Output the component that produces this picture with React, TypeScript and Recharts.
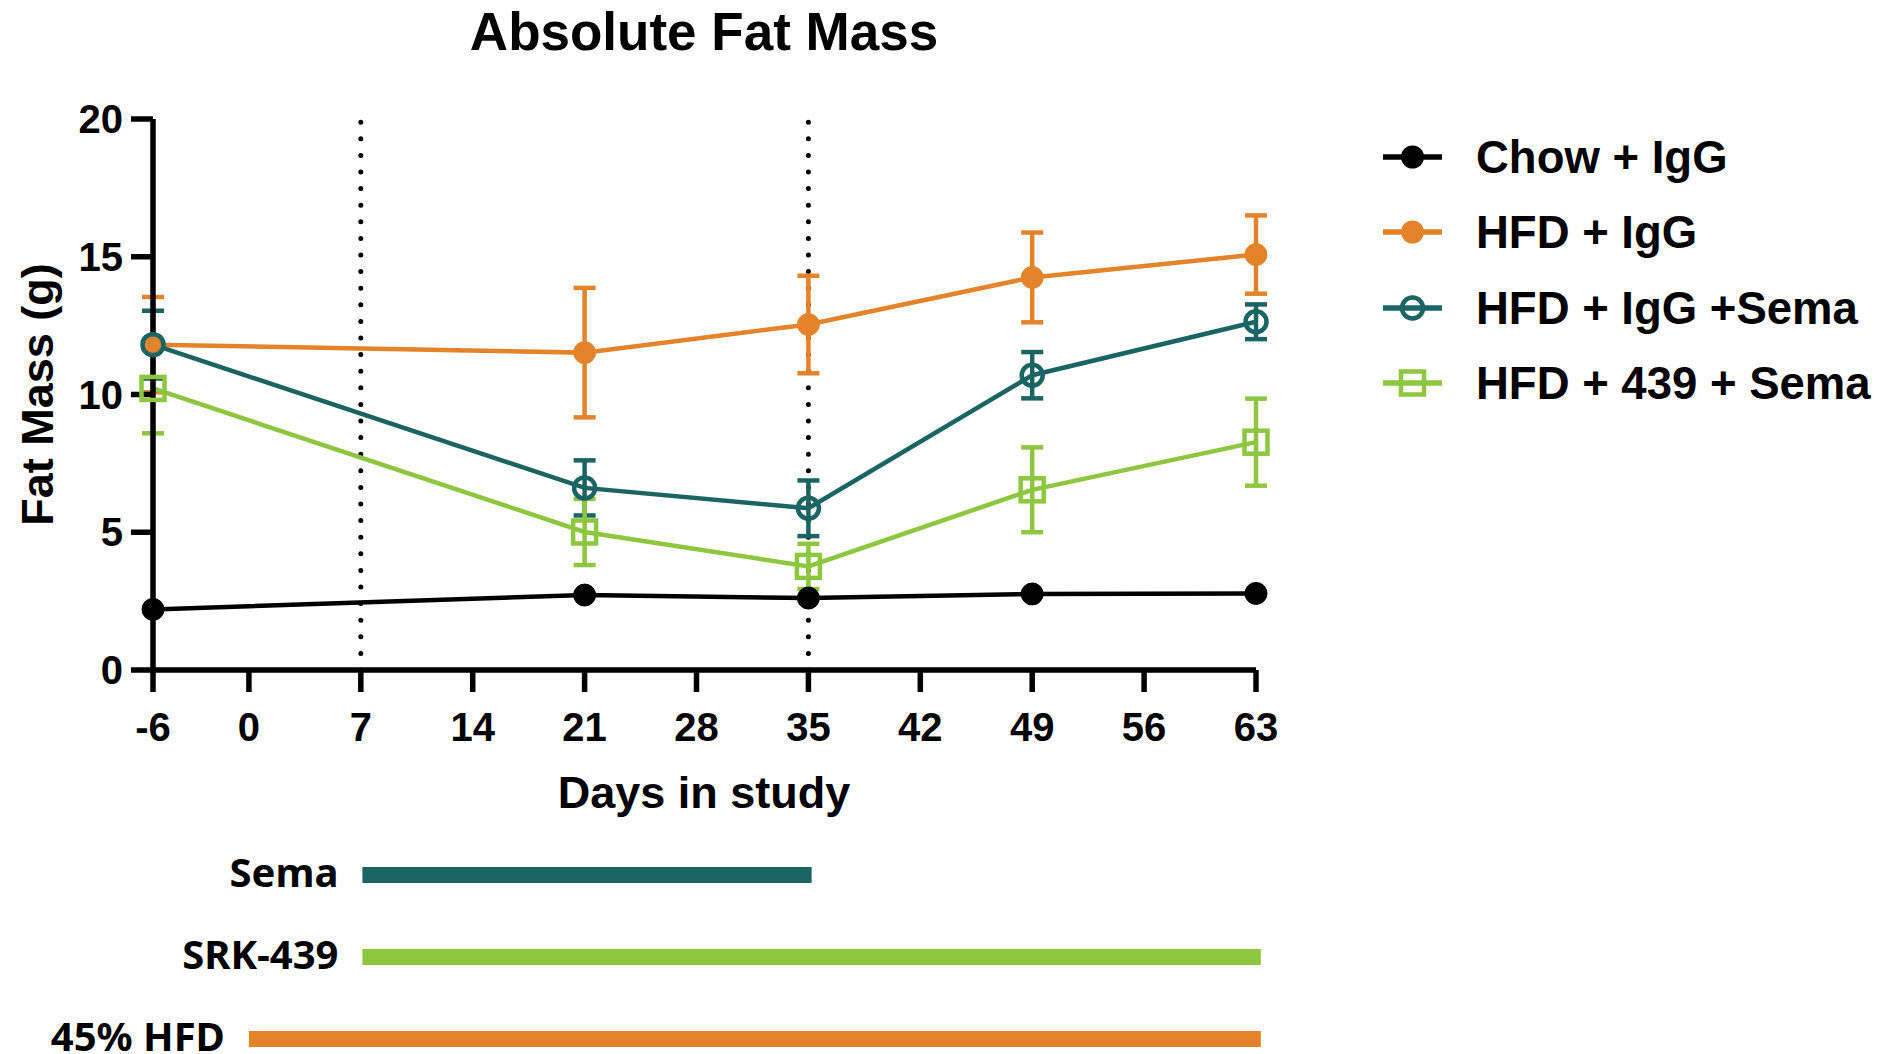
import React from 'react';
import { LineChart, Line, XAxis, YAxis, ErrorBar, ReferenceLine, LabelList } from 'recharts';

// ---------- data ----------
const days = [-6, 21, 35, 49, 63];
const chowIgG = [2.2, 2.72, 2.61, 2.76, 2.78];
const hfdIgG = [11.81, 11.52, 12.54, 14.25, 15.08];
const hfdIgGErr = [1.73, 2.35, 1.77, 1.63, 1.42];
const hfdIgGSema = [11.81, 6.61, 5.87, 10.7, 12.64];
const hfdIgGSemaErr = [1.23, 1.0, 1.01, 0.84, 0.63];
const hfd439Sema = [10.22, 5.01, 3.76, 6.54, 8.27];
const hfd439SemaErr = [1.63, 1.2, 0.82, 1.54, 1.58];

const xTicks = [-6, 0, 7, 14, 21, 28, 35, 42, 49, 56, 63];
const yTicks = [0, 5, 10, 15, 20];
const phaseDays = [7, 35];

const treatmentNames = ['Sema', 'SRK-439', '45% HFD'];
const treatmentStart = [7.1, 7.1, 0];
const treatmentEnd = [35.2, 63.3, 63.3];

// ---------- styles ----------
const BLACK = '#000000';
const ORANGE = '#E4832A';
const TEAL = '#1B6464';
const GREEN = '#8DC63F';
const ARIAL = '"Liberation Sans", Arial, Helvetica, sans-serif';
const CAL = '"Noto Sans", "Open Sans", sans-serif';

const rows = days.map((d, i) => ({
  day: d,
  chow: chowIgG[i],
  hfd: hfdIgG[i],
  hfdErr: hfdIgGErr[i],
  sema: hfdIgGSema[i],
  semaErr: hfdIgGSemaErr[i],
  s439: hfd439Sema[i],
  s439Err: hfd439SemaErr[i],
}));

const treatmentColors = [TEAL, GREEN, ORANGE];
const treatments = treatmentNames.map((name, i) => ({
  name,
  color: treatmentColors[i],
  data: [
    { x: treatmentStart[i], row: i + 1 },
    { x: treatmentEnd[i], row: i + 1 },
  ],
}));

type Marker = 'filled' | 'ring' | 'square';
const legendItems: { label: string; color: string; marker: Marker }[] = [
  { label: 'Chow + IgG', color: BLACK, marker: 'filled' },
  { label: 'HFD + IgG', color: ORANGE, marker: 'filled' },
  { label: 'HFD + IgG +Sema', color: TEAL, marker: 'ring' },
  { label: 'HFD + 439 + Sema', color: GREEN, marker: 'square' },
];

const SquareDot = (props: any) => {
  const { cx, cy, index } = props;
  if (cx == null || cy == null) return <g key={`sq-${index}`} />;
  return (
    <rect
      key={`sq-${index}`}
      x={cx - 11.5}
      y={cy - 11.5}
      width={23}
      height={23}
      fill="none"
      stroke={GREEN}
      strokeWidth={4.5}
    />
  );
};

const axisStroke = { stroke: BLACK, strokeWidth: 5.5 };
const tickFont = { fontFamily: ARIAL, fontSize: 40, fontWeight: 700, fill: BLACK };

const LegendMarker = ({ x, y, color, marker }: { x: number; y: number; color: string; marker: Marker }) => {
  if (marker === 'filled') return <circle cx={x} cy={y} r={11.5} fill={color} />;
  if (marker === 'ring') return <circle cx={x} cy={y} r={10.5} fill="none" stroke={color} strokeWidth={4.5} />;
  return <rect x={x - 11.5} y={y - 11.5} width={23} height={23} fill="none" stroke={color} strokeWidth={4.5} />;
};

export default function App() {
  const legendRowY = [157, 232, 308, 383];
  return (
    <div style={{ position: 'absolute', left: 0, top: 0, width: 1885, height: 1054, background: '#fff' }}>
      <div style={{ position: 'absolute', left: 0, top: 0 }}>
        <LineChart width={1885} height={830} data={rows} margin={{ top: 119, right: 629, bottom: 0, left: 0 }}>
          <XAxis
            dataKey="day"
            type="number"
            domain={[-6, 63]}
            ticks={xTicks}
            interval={0}
            height={160}
            tickSize={22}
            tickMargin={21}
            axisLine={axisStroke}
            tickLine={axisStroke}
            tick={tickFont}
          />
          <YAxis
            type="number"
            domain={[0, 20]}
            ticks={yTicks}
            interval={0}
            width={153}
            tickSize={22}
            tickMargin={8}
            axisLine={axisStroke}
            tickLine={axisStroke}
            tick={tickFont}
          />
          {phaseDays.map((d) => (
            <ReferenceLine
              key={`ph-${d}`}
              x={d}
              stroke={BLACK}
              strokeWidth={5}
              strokeDasharray="0 16.6"
              strokeLinecap="round"
            />
          ))}
          <Line
            type="linear"
            dataKey="chow"
            stroke={BLACK}
            strokeWidth={4.5}
            dot={{ r: 11, fill: BLACK, stroke: BLACK, strokeWidth: 1 }}
            activeDot={false}
            isAnimationActive={false}
          />
          <Line
            type="linear"
            dataKey="hfd"
            stroke={ORANGE}
            strokeWidth={4.5}
            dot={{ r: 11, fill: ORANGE, stroke: ORANGE, strokeWidth: 1 }}
            activeDot={false}
            isAnimationActive={false}
          >
            <ErrorBar dataKey="hfdErr" direction="y" width={11} stroke={ORANGE} strokeWidth={4.5} isAnimationActive={false} />
          </Line>
          <Line
            type="linear"
            dataKey="sema"
            stroke={TEAL}
            strokeWidth={4.5}
            dot={{ r: 10.5, fill: 'none', stroke: TEAL, strokeWidth: 4.5 }}
            activeDot={false}
            isAnimationActive={false}
          >
            <ErrorBar dataKey="semaErr" direction="y" width={11} stroke={TEAL} strokeWidth={4.5} isAnimationActive={false} />
          </Line>
          <Line
            type="linear"
            dataKey="s439"
            stroke={GREEN}
            strokeWidth={4.5}
            dot={SquareDot}
            activeDot={false}
            isAnimationActive={false}
          >
            <ErrorBar dataKey="s439Err" direction="y" width={11} stroke={GREEN} strokeWidth={4.5} isAnimationActive={false} />
          </Line>
        </LineChart>
      </div>

      <div style={{ position: 'absolute', left: 0, top: 830 }}>
        {/* same day scale as the main chart (15.97 px/day), extended one day to the right */}
        <LineChart width={1885} height={224} margin={{ top: 45, right: 613, bottom: 15, left: 153 }}>
          <XAxis dataKey="x" type="number" domain={[-6, 64]} hide />
          <YAxis type="number" domain={[1, 3]} reversed hide />
          {treatments.map((t) => (
            <Line
              key={t.name}
              data={t.data}
              dataKey="row"
              type="linear"
              stroke={t.color}
              strokeWidth={16}
              strokeLinecap="butt"
              dot={false}
              activeDot={false}
              isAnimationActive={false}
            >
              <LabelList
                dataKey="row"
                content={(p: any) =>
                  p.index === 0 ? (
                    <text
                      x={Number(p.x) - 24}
                      y={Number(p.y) + 12}
                      textAnchor="end"
                      fontFamily={CAL}
                      fontSize={40}
                      fontWeight={700}
                      fill={BLACK}
                    >
                      {t.name}
                    </text>
                  ) : null
                }
              />
            </Line>
          ))}
        </LineChart>
      </div>

      <svg width={1885} height={1054} style={{ position: 'absolute', left: 0, top: 0, pointerEvents: 'none' }}>
        <text x={704} y={50} textAnchor="middle" fontFamily={ARIAL} fontSize={53} fontWeight={700} fill={BLACK}>
          Absolute Fat Mass
        </text>
        <text x={704} y={808} textAnchor="middle" fontFamily={ARIAL} fontSize={45} fontWeight={700} fill={BLACK}>
          Days in study
        </text>
        <text
          x={53}
          y={394.5}
          transform="rotate(-90 53 394.5)"
          textAnchor="middle"
          fontFamily={ARIAL}
          fontSize={45}
          fontWeight={700}
          fill={BLACK}
        >
          Fat Mass (g)
        </text>
        {legendItems.map((it, i) => (
          <g key={it.label}>
            <line x1={1383} x2={1442} y1={legendRowY[i]} y2={legendRowY[i]} stroke={it.color} strokeWidth={5.5} />
            <LegendMarker x={1412.5} y={legendRowY[i]} color={it.color} marker={it.marker} />
            <text x={1476} y={legendRowY[i] + 16} fontFamily={ARIAL} fontSize={45.5} fontWeight={700} fill={BLACK}>
              {it.label}
            </text>
          </g>
        ))}
      </svg>
    </div>
  );
}
